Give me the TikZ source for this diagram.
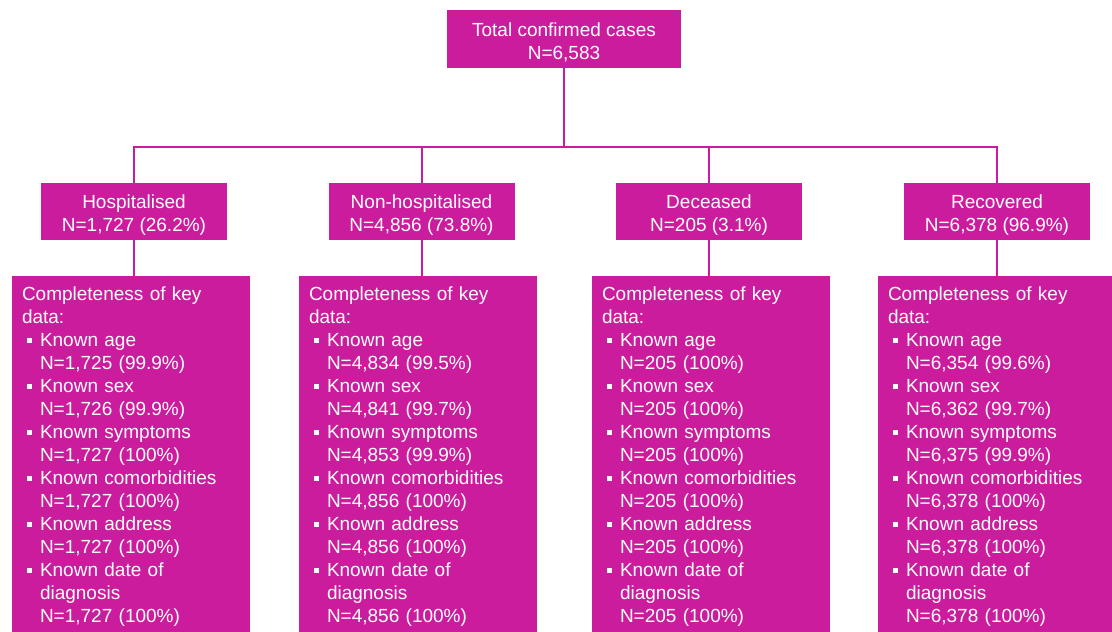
\documentclass[tikz,border=0pt]{standalone}
\usepackage{fontspec}
\setmainfont{Liberation Sans}
\definecolor{casemagenta}{RGB}{204,28,158}
\newcommand{\bul}{\makebox[18pt][l]{\hspace{5pt}\rule[4pt]{5pt}{5pt}}}
\newcommand{\ind}{\hspace*{18pt}}
\newcommand{\topstrut}{\rule{0pt}{20pt}}
\newcommand{\keydata}[6]{Completeness of key\\data:\\
  \bul Known age\\\ind N=#1\\
  \bul Known sex\\\ind N=#2\\
  \bul Known symptoms\\\ind N=#3\\
  \bul Known comorbidities\\\ind N=#4\\
  \bul Known address\\\ind N=#5\\
  \bul Known date of\\\ind diagnosis\\\ind N=#6}

\begin{document}
\begin{tikzpicture}[x=1pt, y=-1pt,
    groupbox/.style={fill=casemagenta, text=white, align=center, inner sep=0pt,
      minimum width=186pt, minimum height=57pt, font=\fontsize{19}{23}\selectfont},
    databox/.style={fill=casemagenta, text=white, align=left, anchor=north,
      text width=218pt, inner xsep=10pt, inner ysep=11pt, font=\fontsize{19}{23}\selectfont},
    link/.style={draw=casemagenta, line width=2pt}]
      \useasboundingbox (0,0) rectangle (1112,632);
      \clip (0,0) rectangle (1112,632);

      \node[groupbox, minimum width=234pt, minimum height=58pt] (total) at (564,39) {\topstrut Total confirmed cases\\N=6,583};

      \node[groupbox] (hosp) at (134,211.5) {\topstrut Hospitalised\\N=1,727 (26.2\%)};
      \node[groupbox] (nonhosp) at (421.5,211.5) {\topstrut Non-hospitalised\\N=4,856 (73.8\%)};
      \node[groupbox] (dec) at (709,211.5) {\topstrut Deceased\\N=205 (3.1\%)};
      \node[groupbox] (rec) at (997,211.5) {\topstrut Recovered\\N=6,378 (96.9\%)};

      \node[databox] (hospdata) at (131,276) {\keydata{1,725 (99.9\%)}{1,726 (99.9\%)}{1,727 (100\%)}{1,727 (100\%)}{1,727 (100\%)}{1,727 (100\%)}};
      \node[databox] (nonhospdata) at (418,276) {\keydata{4,834 (99.5\%)}{4,841 (99.7\%)}{4,853 (99.9\%)}{4,856 (100\%)}{4,856 (100\%)}{4,856 (100\%)}};
      \node[databox] (decdata) at (711,276) {\keydata{205 (100\%)}{205 (100\%)}{205 (100\%)}{205 (100\%)}{205 (100\%)}{205 (100\%)}};
      \node[databox] (recdata) at (997,276) {\keydata{6,354 (99.6\%)}{6,362 (99.7\%)}{6,375 (99.9\%)}{6,378 (100\%)}{6,378 (100\%)}{6,378 (100\%)}};

      \coordinate (bus) at (564,147);
      \draw[link] (total.south) -- (bus);
      \draw[link] (hosp.north) |- (bus) -| (rec.north);
      \draw[link] (nonhosp.north) -- (nonhosp.north |- bus);
      \draw[link] (dec.north) -- (dec.north |- bus);

      \draw[link] (hosp.south) -- (hosp.south |- hospdata.north);
      \draw[link] (nonhosp.south) -- (nonhosp.south |- nonhospdata.north);
      \draw[link] (dec.south) -- (dec.south |- decdata.north);
      \draw[link] (rec.south) -- (rec.south |- recdata.north);
    \end{tikzpicture}
\end{document}
